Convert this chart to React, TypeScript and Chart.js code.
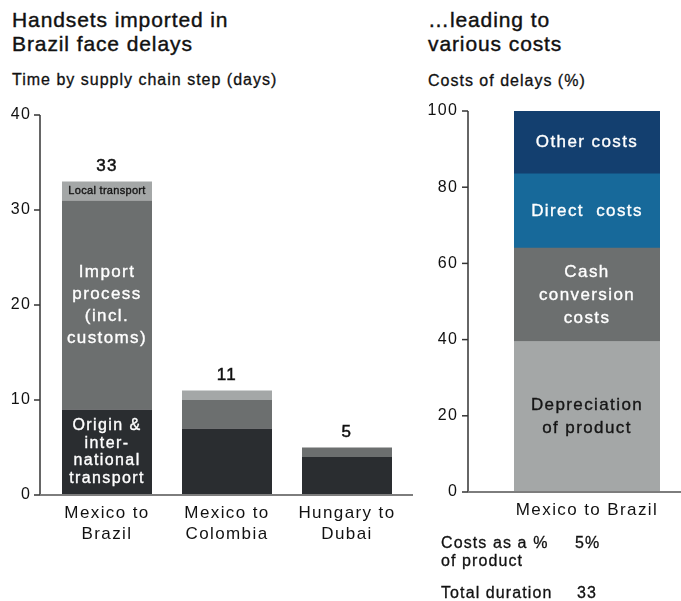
import { useEffect, useRef } from "react";
import { Chart, registerables } from "chart.js";

Chart.register(...registerables);

const FONT = '"Liberation Sans", Arial, Helvetica, sans-serif';

// ---- Left chart data: time by supply chain step (days)
const routes = [["Mexico to", "Brazil"], ["Mexico to", "Colombia"], ["Hungary to", "Dubai"]];
const originTransport = [9, 7, 4];
const importProcess = [22, 3, 1];
const localTransport = [2, 1, 0];
const delayTicks = [0, 10, 20, 30, 40];

const originLabel = ["Origin &", "inter-", "national", "transport"];
const importLabel = ["Import", "process", "(incl.", "customs)"];
const localLabel = ["Local transport"];

// ---- Right chart data: costs of delays (%)
const costCategory = [["Mexico to Brazil"]];
const depreciation = [39.5];
const cashConversion = [24.5];
const directCosts = [19.5];
const otherCosts = [16.5];
const costTicks = [0, 20, 40, 60, 80, 100];

const depreciationLabel = ["Depreciation", "of product"];
const cashLabel = ["Cash", "conversion", "costs"];
const directLabel = ["Direct  costs"];
const otherLabel = ["Other costs"];

const DARK = "#2a2d30";
const MID = "#6c6f6f";
const LIGHT = "#a4a7a7";
const BLUE = "#17699a";
const NAVY = "#133f6f";

const SPACING = "1.4px";

const spacingPlugin = {
  id: "spacing",
  beforeDraw(chart: any) {
    (chart.ctx as any).letterSpacing = SPACING;
  },
};

const segLabelPlugin = {
  id: "segLabels",
  afterDatasetsDraw(chart: any) {
    const ctx = chart.ctx;
    chart.data.datasets.forEach((ds: any, di: number) => {
      const lab = ds.segLabel;
      if (!lab) return;
      const meta = chart.getDatasetMeta(di);
      const el = meta.data[lab.index];
      if (!el) return;
      const p = el.getProps(["x", "y", "base"], true);
      const cy = (p.y + p.base) / 2 + (lab.dy || 0);
      ctx.save();
      (ctx as any).letterSpacing = lab.spacing || SPACING;
      ctx.font = `${lab.size}px ${FONT}`;
      ctx.fillStyle = lab.color;
      ctx.strokeStyle = lab.color;
      ctx.lineWidth = 0.35;
      ctx.textAlign = "center";
      ctx.textBaseline = "middle";
      const n = lab.lines.length;
      lab.lines.forEach((t: string, i: number) => {
        const y = cy + (i - (n - 1) / 2) * lab.lh;
        ctx.fillText(t, p.x, y);
        ctx.strokeText(t, p.x, y);
      });
      ctx.restore();
    });
  },
};

const totalsPlugin = {
  id: "totals",
  afterDatasetsDraw(chart: any, _args: any, opts: any) {
    if (!opts || !opts.show) return;
    const ctx = chart.ctx;
    const n = chart.data.labels.length;
    const last = chart.getDatasetMeta(chart.data.datasets.length - 1);
    for (let i = 0; i < n; i++) {
      let total = 0;
      chart.data.datasets.forEach((ds: any) => (total += ds.data[i]));
      const el = last.data[i];
      const p = el.getProps(["x", "y"], true);
      ctx.save();
      (ctx as any).letterSpacing = SPACING;
      ctx.font = `17px ${FONT}`;
      ctx.fillStyle = "#111";
      ctx.strokeStyle = "#111";
      ctx.lineWidth = 0.5;
      ctx.textAlign = "center";
      ctx.textBaseline = "middle";
      ctx.fillText(String(total), p.x, p.y - 15);
      ctx.strokeText(String(total), p.x, p.y - 15);
      ctx.restore();
    }
  },
};

const axesPlugin = {
  id: "axesLines",
  afterDraw(chart: any, _args: any, opts: any) {
    if (!opts || opts.yLineX === undefined) return;
    const ctx = chart.ctx;
    const ys = chart.scales.y;
    const top = ys.getPixelForValue(ys.max);
    const bottom = ys.getPixelForValue(ys.min);
    ctx.save();
    ctx.strokeStyle = "#333";
    ctx.lineWidth = 1.5;
    ctx.beginPath();
    ctx.moveTo(opts.yLineX, top);
    ctx.lineTo(opts.yLineX, bottom);
    ctx.stroke();
    ys.ticks.forEach((t: any) => {
      const y = ys.getPixelForValue(t.value);
      ctx.beginPath();
      ctx.moveTo(opts.yLineX - 6, y);
      ctx.lineTo(opts.yLineX, y);
      ctx.stroke();
    });
    ctx.strokeStyle = "#7d7d7d";
    ctx.lineWidth = 2;
    ctx.beginPath();
    ctx.moveTo(opts.yLineX, bottom);
    ctx.lineTo(opts.xLineEnd, bottom);
    ctx.stroke();
    ctx.restore();
  },
};

function LeftChart() {
  const ref = useRef<HTMLCanvasElement>(null);
  useEffect(() => {
    if (!ref.current) return;
    const chart = new Chart(ref.current, {
      type: "bar",
      data: {
        labels: routes,
        datasets: [
          { label: "Origin & international transport", data: originTransport, backgroundColor: DARK, segLabel: { index: 0, lines: originLabel, size: 16, lh: 17.6, color: "#ffffff" } } as any,
          { label: "Import process", data: importProcess, backgroundColor: MID, segLabel: { index: 0, lines: importLabel, size: 17, lh: 22, color: "#ffffff" } } as any,
          { label: "Local transport", data: localTransport, backgroundColor: LIGHT, segLabel: { index: 0, lines: localLabel, size: 11, lh: 12, color: "#151515", spacing: "0.3px" } } as any,
        ],
      },
      options: {
        animation: false,
        responsive: false,
        layout: { padding: { top: 115, right: 13, left: 0, bottom: 0 } },
        datasets: { bar: { barPercentage: 0.75, categoryPercentage: 1, borderWidth: 0 } },
        plugins: {
          legend: { display: false },
          tooltip: { enabled: false },
          totals: { show: true },
          axesLines: { yLineX: 40, xLineEnd: 413 },
        } as any,
        scales: {
          x: {
            stacked: true,
            grid: { display: false, drawTicks: false },
            border: { display: false },
            ticks: { color: "#111", font: { family: FONT, size: 17, lineHeight: "21px" } as any, padding: 8 },
            afterFit: (s: any) => { s.height = 65; },
          },
          y: {
            stacked: true,
            min: 0,
            max: 40,
            afterBuildTicks: (s: any) => { s.ticks = delayTicks.map((v) => ({ value: v })); },
            grid: { display: false, drawTicks: false },
            border: { display: false },
            ticks: { color: "#111", font: { family: FONT, size: 16 }, padding: 15.6 },
            afterFit: (s: any) => { s.width = 47; },
          },
        },
      },
      plugins: [spacingPlugin, segLabelPlugin, totalsPlugin, axesPlugin],
    });
    return () => chart.destroy();
  }, []);
  return <canvas ref={ref} width={420} height={560} style={{ position: "absolute", left: 0, top: 0 }} />;
}

function RightChart() {
  const ref = useRef<HTMLCanvasElement>(null);
  useEffect(() => {
    if (!ref.current) return;
    const chart = new Chart(ref.current, {
      type: "bar",
      data: {
        labels: costCategory,
        datasets: [
          { label: "Depreciation of product", data: depreciation, backgroundColor: LIGHT, segLabel: { index: 0, lines: depreciationLabel, size: 17, lh: 23, color: "#151515" } } as any,
          { label: "Cash conversion costs", data: cashConversion, backgroundColor: MID, segLabel: { index: 0, lines: cashLabel, size: 17, lh: 23, color: "#ffffff" } } as any,
          { label: "Direct costs", data: directCosts, backgroundColor: BLUE, segLabel: { index: 0, lines: directLabel, size: 17, lh: 23, color: "#ffffff" } } as any,
          { label: "Other costs", data: otherCosts, backgroundColor: NAVY, segLabel: { index: 0, lines: otherLabel, size: 17, lh: 23, color: "#ffffff" } } as any,
        ],
      },
      options: {
        animation: false,
        responsive: false,
        layout: { padding: { top: 111, right: 21, left: 0, bottom: 0 } },
        datasets: { bar: { barPercentage: 1, categoryPercentage: 1, borderWidth: 0 } },
        plugins: {
          legend: { display: false },
          tooltip: { enabled: false },
          totals: { show: false },
          axesLines: { yLineX: 48, xLineEnd: 261 },
        } as any,
        scales: {
          x: {
            stacked: true,
            grid: { display: false, drawTicks: false },
            border: { display: false },
            ticks: { color: "#111", font: { family: FONT, size: 17, lineHeight: "21px" } as any, padding: 8 },
            afterFit: (s: any) => { s.height = 68; },
          },
          y: {
            stacked: true,
            min: 0,
            max: 100,
            afterBuildTicks: (s: any) => { s.ticks = costTicks.map((v) => ({ value: v })); },
            grid: { display: false, drawTicks: false },
            border: { display: false },
            ticks: { color: "#111", font: { family: FONT, size: 16 }, padding: 55.6 },
            afterFit: (s: any) => { s.width = 94; },
          },
        },
      },
      plugins: [spacingPlugin, segLabelPlugin, axesPlugin],
    });
    return () => chart.destroy();
  }, []);
  return <canvas ref={ref} width={261} height={560} style={{ position: "absolute", left: 420, top: 0 }} />;
}

const titleStyle: any = {
  position: "absolute",
  fontFamily: FONT,
  fontSize: 21,
  lineHeight: "24px",
  letterSpacing: "0.9px",
  color: "#111",
  WebkitTextStroke: "0.4px #111",
  whiteSpace: "nowrap",
};
const subStyle: any = {
  position: "absolute",
  fontFamily: FONT,
  fontSize: 16,
  lineHeight: "20px",
  letterSpacing: "1px",
  color: "#111",
  WebkitTextStroke: "0.3px #111",
  whiteSpace: "nowrap",
};
const noteStyle: any = {
  position: "absolute",
  fontFamily: FONT,
  fontSize: 16,
  lineHeight: "18px",
  letterSpacing: "1.1px",
  color: "#111",
  WebkitTextStroke: "0.3px #111",
  whiteSpace: "nowrap",
};

export default function App() {
  return (
    <div style={{ position: "absolute", left: 0, top: 0, width: 681, height: 601, overflow: "hidden", background: "#fff" }}>
      <div style={{ ...titleStyle, left: 12, top: 8 }}>Handsets imported in<br />Brazil face delays</div>
      <div style={{ ...subStyle, left: 12, top: 70 }}>Time by supply chain step (days)</div>
      <div style={{ ...titleStyle, left: 428, top: 8 }}>…leading to<br />various costs</div>
      <div style={{ ...subStyle, left: 428, top: 71 }}>Costs of delays (%)</div>
      <LeftChart />
      <RightChart />
      <div style={{ ...noteStyle, left: 441, top: 534 }}>Costs as a %<br />of product</div>
      <div style={{ ...noteStyle, left: 575, top: 534 }}>5%</div>
      <div style={{ ...noteStyle, left: 441, top: 584 }}>Total duration</div>
      <div style={{ ...noteStyle, left: 577, top: 584 }}>33</div>
    </div>
  );
}
